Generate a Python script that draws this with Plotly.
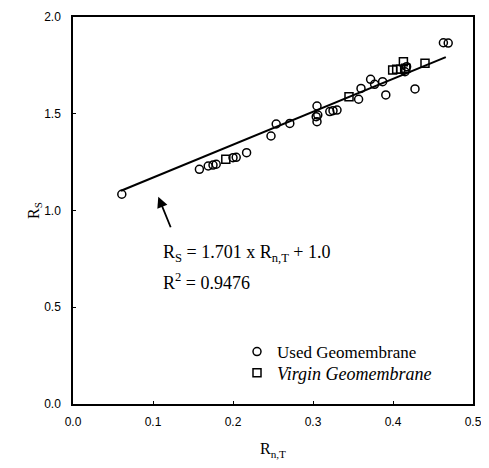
import plotly.graph_objects as go

# Used geomembrane (circles)
used_x = [0.061, 0.158, 0.169, 0.175, 0.179, 0.200, 0.204, 0.217, 0.2475, 0.254, 0.271,
          0.305, 0.304, 0.306, 0.305, 0.321, 0.325, 0.330, 0.357, 0.360, 0.372, 0.377,
          0.387, 0.391, 0.417, 0.415, 0.4275, 0.463, 0.469]
used_y = [1.084, 1.213, 1.230, 1.235, 1.239, 1.273, 1.275, 1.299, 1.385, 1.447, 1.450,
          1.540, 1.485, 1.493, 1.459, 1.511, 1.516, 1.519, 1.575, 1.631, 1.678, 1.652,
          1.666, 1.597, 1.743, 1.717, 1.628, 1.867, 1.865]

# Virgin geomembrane (squares)
virgin_x = [0.191, 0.345, 0.3996, 0.4046, 0.4096, 0.413, 0.416, 0.440]
virgin_y = [1.265, 1.588, 1.726, 1.730, 1.730, 1.769, 1.735, 1.761]

# Regression line  Rs = 1.701 * RnT + 1.0
slope = 1.701
intercept = 1.0
fit_x = [0.060, 0.466]
fit_y = [slope * v + intercept for v in fit_x]

x_ticks = [0.0, 0.1, 0.2, 0.3, 0.4, 0.5]
y_ticks = [0.0, 0.5, 1.0, 1.5, 2.0]

serif = "Liberation Serif, Times New Roman, serif"
sans = "Liberation Sans, Arial, sans-serif"

fig = go.Figure()
fig.add_trace(go.Scatter(x=fit_x, y=fit_y, mode="lines", line=dict(color="black", width=2),
                         showlegend=False, hoverinfo="skip"))
fig.add_trace(go.Scatter(x=used_x, y=used_y, mode="markers", name="Used Geomembrane",
                         legend="legend",
                         marker=dict(symbol="circle-open", size=8, color="black",
                                     line=dict(width=1.5, color="black"))))
fig.add_trace(go.Scatter(x=virgin_x, y=virgin_y, mode="markers",
                         name="<i>Virgin Geomembrane</i>", legend="legend2",
                         marker=dict(symbol="square-open", size=8, color="black",
                                     line=dict(width=1.5, color="black"))))

fig.add_annotation(x=0.1066, y=1.071, xref="x", yref="y", ax=13, ay=32, text="",
                   showarrow=True, arrowhead=2, arrowsize=1.2, arrowwidth=1.8,
                   arrowcolor="black")
fig.add_annotation(x=0.110, y=0.78, xref="x", yref="y", xanchor="left", yanchor="middle",
                   text="R<sub>S</sub> = 1.701 x R<sub>n,T</sub> + 1.0", showarrow=False,
                   font=dict(family=serif, size=18, color="black"))
fig.add_annotation(x=0.110, y=0.635, xref="x", yref="y", xanchor="left", yanchor="middle",
                   text="R<sup>2</sup> = 0.9476", showarrow=False,
                   font=dict(family=serif, size=18, color="black"))

fig.update_layout(
    width=489, height=468,
    margin=dict(l=65, r=24, t=9, b=72),
    plot_bgcolor="white", paper_bgcolor="white",
    legend=dict(x=0.41, y=0.1344, xanchor="left", yanchor="middle",
                font=dict(family=serif, size=17, color="black"),
                bgcolor="rgba(0,0,0,0)", itemwidth=30),
    legend2=dict(x=0.41, y=0.0801, xanchor="left", yanchor="middle",
                 font=dict(family=serif, size=18, color="black"),
                 bgcolor="rgba(0,0,0,0)", itemwidth=30),
    xaxis=dict(range=[0, 0.5], tickvals=x_ticks, ticktext=[f"{v:.1f}" for v in x_ticks],
               showgrid=False, zeroline=False, showline=True, linecolor="black",
               linewidth=1.5, mirror=True, ticks="inside", ticklen=3, tickcolor="black",
               tickfont=dict(family=sans, size=12, color="black"), ticklabelstandoff=6,
               automargin=False,
               title=dict(text="R<sub>n,T</sub>", font=dict(family=serif, size=16, color="black"),
                          standoff=15)),
    yaxis=dict(range=[0, 2.0], tickvals=y_ticks, ticktext=[f"{v:.1f}" for v in y_ticks],
               showgrid=False, zeroline=False, showline=True, linecolor="black",
               linewidth=1.5, mirror=True, ticks="inside", ticklen=3, tickcolor="black",
               tickfont=dict(family=sans, size=12, color="black"), ticklabelstandoff=8,
               automargin=False,
               title=dict(text="R<sub>S</sub>", font=dict(family=serif, size=16, color="black"),
                          standoff=0)),
)

fig.write_html("out.html")
